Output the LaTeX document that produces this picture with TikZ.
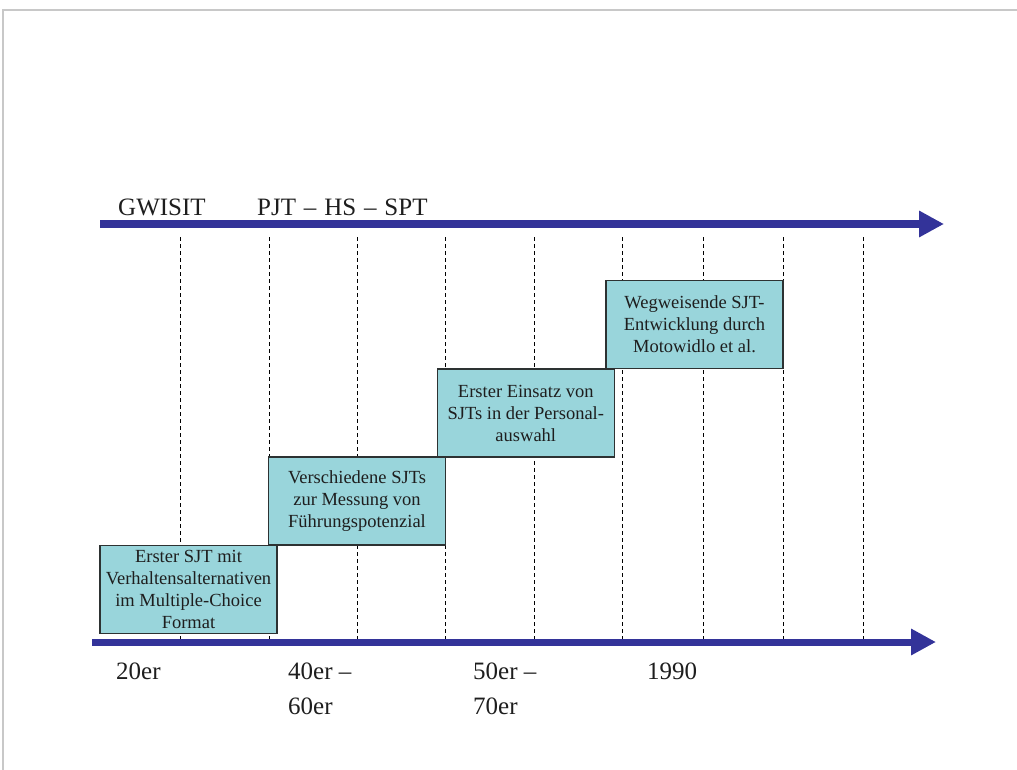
\documentclass[tikz,border=0pt]{standalone}
\usepackage{fontspec}
\setmainfont{Liberation Serif}
\usetikzlibrary{arrows.meta}

\definecolor{axisblue}{RGB}{51,51,153}
\definecolor{boxfill}{RGB}{153,213,219}
\definecolor{boxline}{RGB}{45,50,50}
\definecolor{framegray}{RGB}{200,200,200}
\definecolor{txt}{RGB}{30,30,30}

\newcommand{\sepdash}{\kern1.6pt–\kern1.6pt}

\tikzset{
  axis/.style={draw=axisblue, line width=7pt,
    -{Triangle[length=25pt,width=25pt,fill=axisblue]}},
  gridline/.style={draw=black, line width=0.9pt, dash pattern=on 4pt off 3pt},
  eventbox/.style={draw=boxline, fill=boxfill, line width=1.1pt,
    minimum width=177pt, minimum height=88pt, inner sep=0pt,
    align=center, text=txt,
    font=\fontsize{18.5pt}{22pt}\selectfont},
  biglabel/.style={anchor=base west, inner sep=0pt, text=txt,
    font=\fontsize{25pt}{35pt}\selectfont},
}

\begin{document}
\begin{tikzpicture}[x=1pt, y=-1pt]
  \useasboundingbox (0,0) rectangle (1017,770);
  % page frame
  \draw[framegray, line width=2pt] (3,770) -- (3,10) -- (1017,10);

  % time grid
  \foreach \gx in {180,269,357,445,534,622,703,783,863}
    \draw[gridline] (\gx,237) -- (\gx,646);

  % axes
  \coordinate (topstart) at (100,224);
  \coordinate (topend) at (944,224);
  \coordinate (botstart) at (92,642);
  \coordinate (botend) at (936,642);
  \draw[axis] (topstart) -- (topend);
  \draw[axis] (botstart) -- (botend);

  % test labels above the upper axis
  \node[biglabel] (gwisit) at (118,215) {GWISIT};
  \node[biglabel] (pjt) at (257,215) {PJT \sepdash{} HS \sepdash{} SPT};

  % milestones
  \node[eventbox] (e1) at (188.5,589.5)
    {Erster SJT mit\\Verhaltensalternativen\\im Multiple-Choice\\Format};
  \node[eventbox] (e2) at (357,501)
    {Verschiedene SJTs\\zur Messung von\\Führungspotenzial};
  \node[eventbox] (e3) at (525.8,413)
    {Erster Einsatz von\\SJTs in der Personal-\\auswahl};
  \node[eventbox] (e4) at (694.5,324.5)
    {Wegweisende SJT-\\Entwicklung durch\\Motowidlo et al.};

  % periods below the lower axis (two-line labels sit on their last baseline)
  \node[biglabel] (p20) at (116,679) {20er};
  \node[biglabel, align=left] (p40) at (288,714) {40er –\\60er};
  \node[biglabel, align=left] (p50) at (473,714) {50er –\\70er};
  \node[biglabel] (p90) at (647,679) {1990};
\end{tikzpicture}
\end{document}
